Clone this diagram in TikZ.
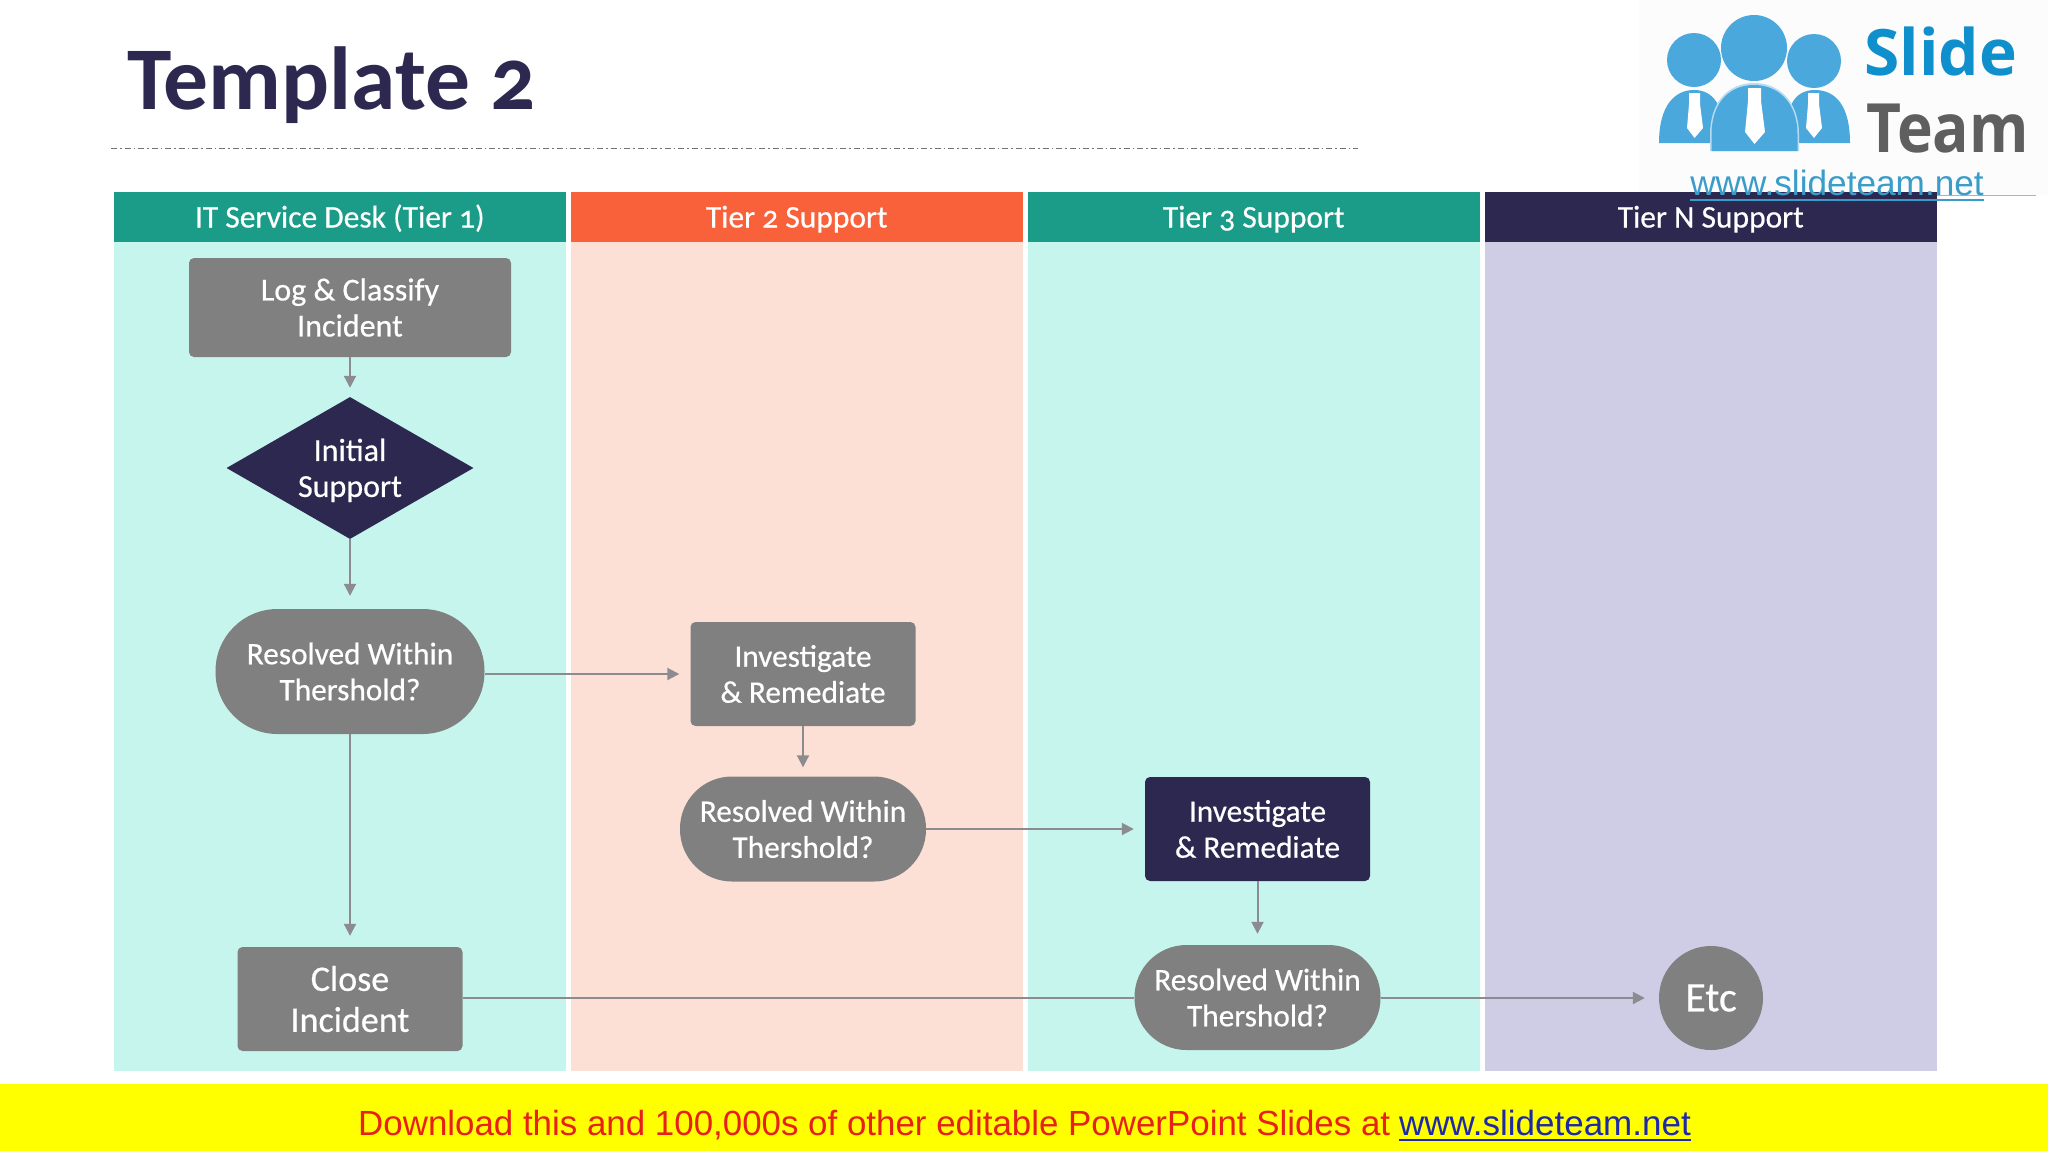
\documentclass[tikz,border=0pt]{standalone}
\usepackage{fontspec}
\setmainfont[Numbers=OldStyle]{Carlito}
\newfontfamily\midfont[Numbers=OldStyle,FakeBold=0.5]{Carlito}
\newfontfamily\arialfont{Liberation Sans}
\newfontfamily\logofont{Open Sans}
\usetikzlibrary{shapes.geometric,arrows.meta,calc}
\definecolor{navy}{HTML}{2D2850}
\definecolor{teal1}{HTML}{1A9C88}
\definecolor{orange1}{HTML}{F9613A}
\definecolor{mint}{HTML}{C5F5EC}
\definecolor{blush}{HTML}{FCE0D6}
\definecolor{lav}{HTML}{CFCCE5}
\definecolor{boxgray}{HTML}{808080}
\definecolor{linegray}{HTML}{8C8C90}
\definecolor{logoblue}{HTML}{4BA8DC}
\definecolor{slideblue}{HTML}{0F8FCB}
\definecolor{teamgray}{HTML}{5F5F5F}
\definecolor{urlblue}{HTML}{3A9CC9}
\definecolor{bannerred}{HTML}{E8201A}
\definecolor{bannerblue}{HTML}{1E28AA}
\definecolor{banneryellow}{HTML}{FFFF00}
\tikzset{
  lane/.style={draw=none,minimum width=451.5pt,minimum height=#1,inner sep=0pt},
  lanehead/.style={lane=50pt,text=white,text depth=5.5pt,text height=26.5pt,font=\midfont\fontsize{31.5}{34}\selectfont},
  flowtext/.style={text=white,align=center,inner sep=0pt,font=\midfont\fontsize{31.3}{36}\selectfont},
  graybox/.style={flowtext,fill=boxgray,rounded corners=5pt,minimum width=222pt,minimum height=104pt},
  navybox/.style={graybox,fill=navy},
  pill/.style={flowtext,fill=boxgray,rounded corners=52pt,minimum width=246pt,minimum height=105pt},
  flow/.style={draw=linegray,line width=2pt,-{Triangle[length=12pt,width=12pt]}},
  plainflow/.style={draw=linegray,line width=2pt},
}
\begin{document}
\begin{tikzpicture}[x=1pt,y=-1pt]
\useasboundingbox (0,0) rectangle (2048,1152);
% logo
\fill[white!99!black] (1639,0) rectangle (2048,195);
\draw[gray!60,line width=0.8pt] (1639,195.5) -- (2036,195.5);
\fill[logoblue] (1694,60) circle (27);
\fill[logoblue] (1814,61) circle (27);
\fill[logoblue] (1659,143) .. controls (1659,105) and (1675,90) .. (1694,90) .. controls (1713,90) and (1725,105) .. (1725,143) -- cycle;
\fill[logoblue] (1785,143) .. controls (1785,105) and (1795,90) .. (1815,90) .. controls (1835,90) and (1850,105) .. (1850,143) -- cycle;
\fill[logoblue] (1754,48) circle (33);
\fill[white!60!logoblue] (1710,151) -- (1710,135) .. controls (1710,100) and (1730,83) .. (1754,83) .. controls (1778,83) and (1799,100) .. (1799,135) -- (1799,151) -- cycle;
\fill[logoblue] (1711.5,151) -- (1711.5,135) .. controls (1711.5,101) and (1731,85) .. (1754,85) .. controls (1777,85) and (1797.5,101) .. (1797.5,135) -- (1797.5,151) -- cycle;
\fill[white] (1748,88) -- (1761,88) -- (1761,101) -- (1765,132) -- (1754.5,144) -- (1745,132) -- (1748,101) -- cycle;
\fill[white] (1689,93) -- (1700,93) -- (1700,104) -- (1703,128) -- (1694.5,138) -- (1687,128) -- (1689,104) -- cycle;
\fill[white] (1808,93) -- (1819,93) -- (1819,104) -- (1822,128) -- (1814,138) -- (1806,128) -- (1808,104) -- cycle;
\node[anchor=base west,inner sep=0pt,text=slideblue,font=\logofont\bfseries\fontsize{64}{64}\selectfont] (logoslide) at (1864,75) {Slide};
\node[anchor=base west,inner sep=0pt,text=teamgray,xscale=0.89,font=\logofont\bfseries\fontsize{68}{68}\selectfont] (logoteam) at (1866,152) {Team};
% title
\node[anchor=base west,inner sep=0pt,text=navy,font=\bfseries\fontsize{89.5}{90}\selectfont] (title) at (127,109) {Template 2};
\draw[black!55,line width=0.9pt,dash pattern=on 6pt off 3pt on 1.5pt off 3pt] (111,148.5) -- (1358,148.5);
% lanes
\node[lane=829pt,fill=mint] (lane1) at (339.75,656) {};
\node[lane=829pt,fill=blush] (lane2) at (796.75,656) {};
\node[lane=829pt,fill=mint] (lane3) at (1253.75,656) {};
\node[lane=829pt,fill=lav] (lane4) at (1710.75,656) {};
\node[lanehead,fill=teal1] (head1) at (339.75,217) {IT Service Desk (Tier 1)};
\node[lanehead,fill=orange1] (head2) at (796.75,217) {Tier 2 Support};
\node[lanehead,fill=teal1] (head3) at (1253.75,217) {Tier 3 Support};
\node[lanehead,fill=navy] (head4) at (1710.75,217) {Tier N Support};
% url over header
\node[anchor=base,inner sep=0pt,text=urlblue,font=\arialfont\fontsize{35.2}{36}\selectfont] (logourl) at (1837,195) {www.slideteam.net};
\draw[urlblue,line width=1.5pt] ([yshift=-5pt]logourl.base west) -- ([yshift=-5pt]logourl.base east);
% nodes
\node[graybox,minimum width=322pt,minimum height=99pt,font=\midfont\fontsize{32}{36}\selectfont] (log) at (350,307.5) {Log \& Classify\\Incident};
\node[flowtext,diamond,fill=navy,aspect=1.74,minimum width=247pt,minimum height=142pt,font=\midfont\fontsize{32}{36}\selectfont] (init) at (350,468) {\rule{0pt}{27pt}Initial\\Support};
\node[pill,rounded corners=62pt,minimum width=269pt,minimum height=125pt] (res1) at (350,671.5) {Resolved Within\\Thershold?};
\node[graybox,minimum width=225pt] (inv1) at (803,674) {Investigate\\\& Remediate};
\node[pill] (res2) at (803,829) {Resolved Within\\Thershold?};
\node[navybox,minimum width=225pt] (inv2) at (1257.5,829) {Investigate\\\& Remediate};
\node[pill] (res3) at (1257.5,997.5) {Resolved Within\\Thershold?};
\node[graybox,minimum width=225pt,font=\midfont\fontsize{36}{41}\selectfont] (close) at (350,999) {Close\\Incident};
\node[flowtext,circle,fill=boxgray,minimum size=104pt,font=\midfont\fontsize{42}{46}\selectfont] (etc) at (1711,998) {Etc};
% connectors
\draw[flow,shorten >=9pt] (log) -- (init);
\draw[flow,shorten >=13pt] (init) -- (res1);
\draw[flow,shorten >=11pt] (res1.east |- inv1) -- (inv1);
\draw[flow,shorten >=9pt] (inv1) -- (res2);
\draw[flow,shorten >=11pt] (res2) -- (inv2);
\draw[flow,shorten >=11pt] (inv2) -- (res3);
\draw[flow,shorten >=11pt] (res1) -- (close);
\draw[plainflow] (close.east |- etc) -- (res3.west |- etc);
\draw[flow,shorten >=14pt] (res3.east |- etc) -- (etc);
% banner
\fill[banneryellow] (0,1084) rectangle (2048,1151);
\node[anchor=base west,inner sep=0pt,text=bannerred,font=\arialfont\fontsize{34.9}{36}\selectfont] (bannertext) at (358,1135) {Download this and 100,000s of other editable PowerPoint Slides at};
\node[anchor=base east,inner sep=0pt,text=bannerblue,font=\arialfont\fontsize{35}{36}\selectfont] (bannerurl) at (1691,1135) {www.slideteam.net};
\draw[bannerblue,line width=1.8pt] ([yshift=-5pt]bannerurl.base west) -- ([yshift=-5pt]bannerurl.base east);
\end{tikzpicture}
\end{document}
